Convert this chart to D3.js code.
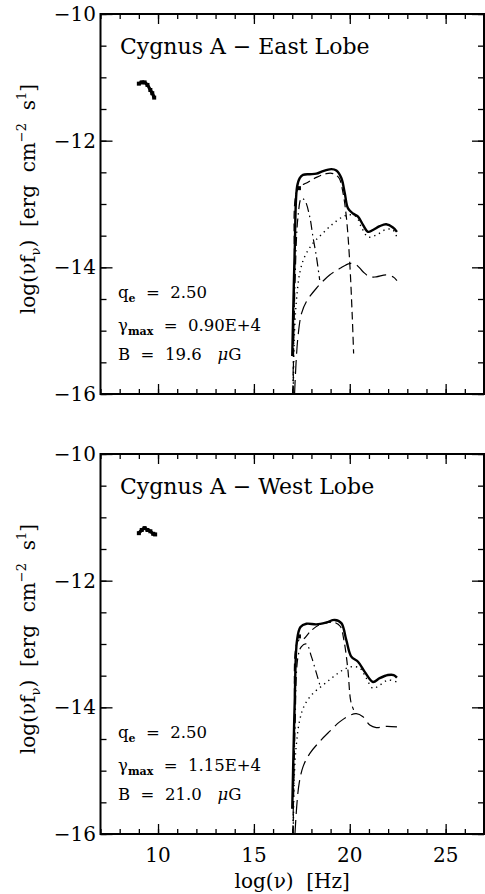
<!DOCTYPE html>
<html><head><meta charset="utf-8">
<script src="https://cdn.jsdelivr.net/npm/d3@7"></script>
<style>
body{margin:0;background:#fff}
svg{display:block}
text{font-family:"DejaVu Serif",serif;fill:#000;white-space:pre}
</style>
</head><body>
<svg id="c" width="485" height="894"></svg>
<script>
// ---------- data ----------
const xDomain = [7, 27];
const yDomain = [-16, -10];
const xTicksMajor = [10, 15, 20, 25];
const xTickLabels = ["10", "15", "20", "25"];
const yTicksMajor = [-10, -12, -14, -16];
const yTickLabels = ["\u221210", "\u221212", "\u221214", "\u221216"];
const panelTitles = ["Cygnus A \u2212 East Lobe", "Cygnus A \u2212 West Lobe"];
const qeValues = ["2.50", "2.50"];
const gammaMaxValues = ["0.90E+4", "1.15E+4"];
const bValues = ["19.6", "21.0"];

// East lobe
const eastRadio = [[9.0,-11.1],[9.15,-11.08],[9.3,-11.08],[9.45,-11.12],[9.6,-11.2],[9.7,-11.25],[9.8,-11.32]];
const eastXray = [[17.35,-12.75]];
const eastTotal = [[17.0,-15.4],[17.08,-14.3],[17.13,-13.73],[17.25,-12.73],[17.39,-12.59],[17.56,-12.54],[17.91,-12.53],[18.26,-12.52],[18.6,-12.48],[19.04,-12.45],[19.3,-12.47],[19.56,-12.59],[19.74,-12.83],[19.91,-13.07],[20.17,-13.15],[20.43,-13.2],[20.69,-13.33],[20.95,-13.44],[21.21,-13.41],[21.56,-13.35],[21.9,-13.32],[22.25,-13.37],[22.46,-13.44]];
const eastShortDash = [[17.05,-16.0],[17.12,-14.2],[17.3,-12.75],[17.74,-12.67],[18.26,-12.58],[18.78,-12.52],[19.13,-12.52],[19.44,-12.59],[19.65,-12.83],[19.82,-13.2],[19.99,-13.88],[20.13,-14.78],[20.2,-15.36]];
const eastDashDot = [[17.03,-16.0],[17.13,-14.4],[17.3,-13.2],[17.48,-12.91],[17.65,-12.94],[17.91,-13.2],[18.08,-13.52],[18.26,-13.83],[18.43,-14.2]];
const eastDotted = [[17.05,-16.0],[17.12,-15.0],[17.22,-14.52],[17.39,-14.09],[17.65,-13.83],[18.08,-13.62],[18.6,-13.46],[19.13,-13.31],[19.65,-13.2],[19.99,-13.17],[20.34,-13.2],[20.6,-13.36],[20.95,-13.52],[21.38,-13.49],[21.9,-13.4],[22.25,-13.41],[22.46,-13.53]];
const eastLongDash = [[17.12,-16.0],[17.2,-15.5],[17.3,-15.09],[17.48,-14.73],[17.74,-14.54],[18.26,-14.33],[18.95,-14.12],[19.47,-14.02],[19.99,-13.94],[20.34,-13.96],[20.69,-14.07],[21.04,-14.15],[21.38,-14.15],[21.9,-14.12],[22.25,-14.15],[22.46,-14.21]];

// West lobe
const westRadio = [[9.0,-11.25],[9.15,-11.2],[9.3,-11.17],[9.45,-11.2],[9.6,-11.22],[9.75,-11.26],[9.85,-11.27]];
const westXray = [[17.35,-12.88]];
const westTotal = [[17.0,-15.6],[17.08,-14.5],[17.13,-13.9],[17.25,-12.94],[17.43,-12.73],[17.74,-12.68],[18.26,-12.69],[18.78,-12.66],[19.21,-12.62],[19.56,-12.67],[19.82,-12.94],[20.08,-13.2],[20.43,-13.28],[20.78,-13.44],[21.21,-13.6],[21.56,-13.54],[21.99,-13.49],[22.29,-13.49],[22.46,-13.53]];
const westShortDash = [[17.05,-16.0],[17.12,-14.3],[17.3,-12.95],[17.6,-12.92],[17.95,-12.8],[18.4,-12.7],[18.9,-12.66],[19.2,-12.66],[19.5,-12.72],[19.7,-12.95],[19.9,-13.4],[20.05,-13.9],[20.2,-14.04]];
const westDashDot = [[17.03,-16.0],[17.14,-14.4],[17.3,-13.2],[17.48,-13.04],[17.74,-13.0],[18.0,-13.2],[18.26,-13.46],[18.47,-13.68]];
const westDotted = [[17.05,-16.0],[17.12,-15.0],[17.22,-14.57],[17.39,-14.2],[17.65,-13.96],[18.08,-13.78],[18.6,-13.65],[19.13,-13.52],[19.65,-13.41],[20.08,-13.36],[20.52,-13.38],[20.86,-13.54],[21.21,-13.7],[21.56,-13.65],[21.99,-13.57],[22.46,-13.6]];
const westLongDash = [[17.14,-16.0],[17.25,-15.5],[17.36,-15.2],[17.56,-14.94],[17.91,-14.73],[18.43,-14.54],[18.95,-14.38],[19.47,-14.23],[19.91,-14.14],[20.34,-14.1],[20.69,-14.15],[21.04,-14.28],[21.38,-14.32],[21.9,-14.3],[22.46,-14.31]];

// ---------- drawing ----------
const svg = d3.select("#c");
const X0 = 100.5, X1 = 484;
const panelTops = [14, 454];
const PH = 380;

const panels = [
  {radio: eastRadio, xray: eastXray, curves: [eastDotted, eastLongDash, eastDashDot, eastShortDash, eastTotal]},
  {radio: westRadio, xray: westXray, curves: [westDotted, westLongDash, westDashDot, westShortDash, westTotal]}
];
const curveStyles = [
  {w: 1.4, dash: "1.3,4"},
  {w: 1.2, dash: "14,6"},
  {w: 1.2, dash: "9,4,1.5,4"},
  {w: 1.2, dash: "8,4.5"},
  {w: 2.4, dash: null}
];

const x = d3.scaleLinear().domain(xDomain).range([X0, X1]);
const xMinor = d3.range(7, 27.01, 1);
const yMinor = d3.range(-16, -9.99, 0.5);

panels.forEach((p, i) => {
  const top = panelTops[i];
  const y = d3.scaleLinear().domain(yDomain).range([top + PH, top]);
  const g = svg.append("g");

  const clipId = "clip" + i;
  svg.append("clipPath").attr("id", clipId).append("rect")
    .attr("x", X0).attr("y", top).attr("width", X1 - X0).attr("height", PH);

  function styleAxis(sel) {
    sel.select(".domain").remove();
    sel.selectAll("line").attr("stroke", "#000").attr("stroke-width", 1.3);
    sel.selectAll("text").remove();
  }
  g.append("g").attr("transform", `translate(0,${top + PH})`)
    .call(d3.axisBottom(x).tickValues(xMinor).tickSize(-5)).call(styleAxis);
  g.append("g").attr("transform", `translate(0,${top + PH})`)
    .call(d3.axisBottom(x).tickValues(xTicksMajor).tickSize(-10)).call(styleAxis);
  g.append("g").attr("transform", `translate(0,${top})`)
    .call(d3.axisTop(x).tickValues(xMinor).tickSize(-5)).call(styleAxis);
  g.append("g").attr("transform", `translate(0,${top})`)
    .call(d3.axisTop(x).tickValues(xTicksMajor).tickSize(-10)).call(styleAxis);
  g.append("g").attr("transform", `translate(${X0},0)`)
    .call(d3.axisLeft(y).tickValues(yMinor).tickSize(-6)).call(styleAxis);
  g.append("g").attr("transform", `translate(${X0},0)`)
    .call(d3.axisLeft(y).tickValues(yTicksMajor).tickSize(-12)).call(styleAxis);
  g.append("g").attr("transform", `translate(${X1},0)`)
    .call(d3.axisRight(y).tickValues(yMinor).tickSize(-6)).call(styleAxis);
  g.append("g").attr("transform", `translate(${X1},0)`)
    .call(d3.axisRight(y).tickValues(yTicksMajor).tickSize(-12)).call(styleAxis);

  g.append("rect").attr("x", X0).attr("y", top).attr("width", X1 - X0).attr("height", PH)
    .attr("fill", "none").attr("stroke", "#000").attr("stroke-width", 2);

  g.selectAll(".ylab").data(yTicksMajor).enter().append("text")
    .attr("x", 96).attr("y", d => y(d) + 7)
    .attr("text-anchor", "end").attr("font-size", 20)
    .text((d, k) => yTickLabels[k]);

  const line = d3.line().x(d => x(d[0])).y(d => y(d[1])).curve(d3.curveCatmullRom.alpha(0.5));
  const cg = g.append("g").attr("clip-path", `url(#${clipId})`);
  p.curves.forEach((c, k) => {
    const s = curveStyles[k];
    cg.append("path").attr("d", line(c)).attr("fill", "none").attr("stroke", "#000")
      .attr("stroke-width", s.w).attr("stroke-dasharray", s.dash)
      .attr("stroke-linejoin", "round");
  });

  const rline = d3.line().x(d => x(d[0])).y(d => y(d[1])).curve(d3.curveCatmullRom);
  cg.append("path").attr("d", rline(p.radio)).attr("fill", "none").attr("stroke", "#000").attr("stroke-width", 3.2);
  cg.selectAll(".rp").data(p.radio).enter().append("rect")
    .attr("x", d => x(d[0]) - 2).attr("y", d => y(d[1]) - 2)
    .attr("width", 4).attr("height", 4).attr("fill", "#000");
  cg.selectAll(".xp").data(p.xray).enter().append("rect")
    .attr("x", d => x(d[0]) - 2).attr("y", d => y(d[1]) - 2)
    .attr("width", 4).attr("height", 4).attr("fill", "#000");

  g.append("text").attr("x", 120).attr("y", top + 40).attr("font-size", 22).text(panelTitles[i]);
  const t1 = g.append("text").attr("x", 118).attr("y", top + 284).attr("font-size", 16.5);
  t1.append("tspan").text("q");
  t1.append("tspan").attr("font-size", 11).attr("dy", 4).attr("font-weight", "bold").text("e");
  t1.append("tspan").attr("dy", -4).text("  =  " + qeValues[i]);
  const t2 = g.append("text").attr("x", 118).attr("y", top + 317).attr("font-size", 16.5);
  t2.append("tspan").text("\u03b3");
  t2.append("tspan").attr("font-size", 11).attr("dy", 4).attr("font-weight", "bold").text("max");
  t2.append("tspan").attr("dy", -4).text("  =  " + gammaMaxValues[i]);
  const t3 = g.append("text").attr("x", 118).attr("y", top + 346).attr("font-size", 16.5);
  t3.append("tspan").text("B  =  " + bValues[i] + "   ");
  t3.append("tspan").attr("font-style", "italic").text("\u03bc");
  t3.append("tspan").text("G");

  const cy = top + PH / 2 - 5;
  const yl = g.append("text").attr("transform", `translate(35,${cy}) rotate(-90)`)
    .attr("text-anchor", "middle").attr("font-size", 20);
  yl.append("tspan").text("log(\u03bdf");
  yl.append("tspan").attr("font-size", 13).attr("dy", 5).text("\u03bd");
  yl.append("tspan").attr("dy", -5).text(")  [erg  cm");
  yl.append("tspan").attr("font-size", 13).attr("dy", -9).text("\u22122");
  yl.append("tspan").attr("dy", 9).text("  s");
  yl.append("tspan").attr("font-size", 13).attr("dy", -9).text("1");
  yl.append("tspan").attr("dy", 9).text("]");

  if (i === 1) {
    g.selectAll(".xlab").data(xTicksMajor).enter().append("text")
      .attr("x", d => x(d)).attr("y", top + PH + 28)
      .attr("text-anchor", "middle").attr("font-size", 20)
      .text((d, k) => xTickLabels[k]);
    g.append("text").attr("x", x(17)).attr("y", 888)
      .attr("text-anchor", "middle").attr("font-size", 20)
      .text("log(\u03bd)  [Hz]");
  }
});
</script>
</body></html>
